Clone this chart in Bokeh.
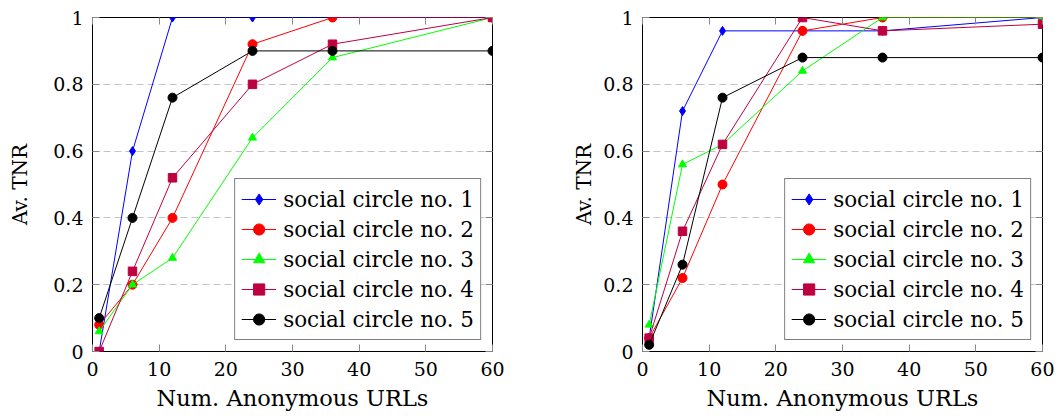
from bokeh.plotting import figure
from bokeh.models import LinearAxis, Legend, LegendItem, FixedTicker, Range1d
from bokeh.layouts import row
from bokeh.embed import file_html
from bokeh.resources import INLINE

# ---- data ----
x_urls = [1, 6, 12, 24, 36, 60]

left_c1 = [0.0, 0.6, 1.0, 1.0, 1.0, 1.0]
left_c2 = [0.08, 0.2, 0.4, 0.92, 1.0, 1.0]
left_c3 = [0.06, 0.2, 0.28, 0.64, 0.88, 1.0]
left_c4 = [0.0, 0.24, 0.52, 0.8, 0.92, 1.0]
left_c5 = [0.1, 0.4, 0.76, 0.9, 0.9, 0.9]

right_c1 = [0.04, 0.72, 0.96, 0.96, 0.96, 1.0]
right_c2 = [0.04, 0.22, 0.5, 0.96, 1.0, 1.0]
right_c3 = [0.08, 0.56, 0.62, 0.84, 1.0, 1.0]
right_c4 = [0.04, 0.36, 0.62, 1.0, 0.96, 0.98]
right_c5 = [0.02, 0.26, 0.76, 0.88, 0.88, 0.88]

series_labels = ["social circle no. 1", "social circle no. 2", "social circle no. 3",
                 "social circle no. 4", "social circle no. 5"]
x_ticks = [0, 10, 20, 30, 40, 50, 60]
y_ticks = [0, 0.2, 0.4, 0.6, 0.8, 1]
y_tick_labels = ["0", "0.2", "0.4", "0.6", "0.8", "1"]
x_label = "Num. Anonymous URLs"
y_label = "Av. TNR"

# ---- styles ----
COLORS = ["#0000ff", "#ff0000", "#00ff00", "#bf0040", "#000000"]
MARKERS = ["diamond", "circle", "triangle", "square", "circle"]
SIZES = [9, 9, 8, 8.5, 9]
FONT = "DejaVu Serif"
TICK_COLOR = "#888888"


def style_axis(ax, show_labels=True):
    ax.axis_line_color = None
    ax.major_tick_in = 7
    ax.major_tick_out = 0
    ax.major_tick_line_color = TICK_COLOR
    ax.minor_tick_line_color = None
    if show_labels:
        ax.major_label_text_font = FONT
        ax.major_label_text_font_size = "19px"
        ax.major_label_text_color = "black"
        ax.axis_label_text_font = FONT
        ax.axis_label_text_font_size = "20px"
        ax.axis_label_text_font_style = "normal"
        ax.axis_label_text_color = "black"
    else:
        ax.major_label_text_font_size = "1px"
        ax.major_label_text_color = None
        ax.major_label_standoff = 0


def make_plot(data, border_left, border_right, ylab_standoff):
    p = figure(frame_width=400, frame_height=334,
               x_range=Range1d(0, 60), y_range=Range1d(0, 1),
               output_backend="svg", toolbar_location=None,
               min_border_left=border_left, min_border_right=border_right,
               min_border_top=17, min_border_bottom=63)
    p.outline_line_color = "black"
    p.outline_line_width = 1
    p.background_fill_color = "white"
    p.border_fill_color = "white"

    p.xaxis.ticker = FixedTicker(ticks=x_ticks)
    p.yaxis.ticker = FixedTicker(ticks=y_ticks)
    p.yaxis.major_label_overrides = dict(zip(y_ticks, y_tick_labels))
    style_axis(p.xaxis[0])
    style_axis(p.yaxis[0])
    p.xaxis.axis_label = x_label
    p.yaxis.axis_label = y_label
    p.xaxis.axis_label_text_font_size = "22.5px"
    p.xaxis.major_label_standoff = 10
    p.xaxis.axis_label_standoff = 6
    p.yaxis.major_label_standoff = 9
    p.yaxis.axis_label_standoff = ylab_standoff

    top = LinearAxis(ticker=FixedTicker(ticks=x_ticks))
    style_axis(top, show_labels=False)
    p.add_layout(top, "above")
    right = LinearAxis(ticker=FixedTicker(ticks=y_ticks))
    style_axis(right, show_labels=False)
    p.add_layout(right, "right")

    p.xgrid.visible = False
    p.ygrid.grid_line_color = "#c4c4c4"
    p.ygrid.grid_line_dash = "7 4"
    p.ygrid.grid_line_width = 1

    items = []
    for ys, lab, col, mk, sz in zip(data, series_labels, COLORS, MARKERS, SIZES):
        ln = p.line(x_urls, ys, line_color=col, line_width=1)
        sc = p.scatter(x_urls, ys, marker=mk, size=sz, fill_color=col, line_color=col)
        items.append(LegendItem(label=lab, renderers=[ln, sc]))

    legend = Legend(items=items, location="bottom_right")
    legend.label_text_font = FONT
    legend.label_text_font_size = "21.5px"
    legend.label_text_color = "black"
    legend.border_line_color = "black"
    legend.border_line_width = 1
    legend.background_fill_alpha = 1
    legend.padding = 6
    legend.spacing = 2
    legend.margin = 11
    legend.glyph_width = 35
    legend.glyph_height = 28
    legend.label_height = 28
    legend.label_standoff = 7
    p.add_layout(legend, "center")
    return p


p1 = make_plot([left_c1, left_c2, left_c3, left_c4, left_c5], 92, 48, 18)
p2 = make_plot([right_c1, right_c2, right_c3, right_c4, right_c5], 102, 12, 4)

layout = row(p1, p2)
open("out.html", "w").write(file_html(layout, INLINE))
